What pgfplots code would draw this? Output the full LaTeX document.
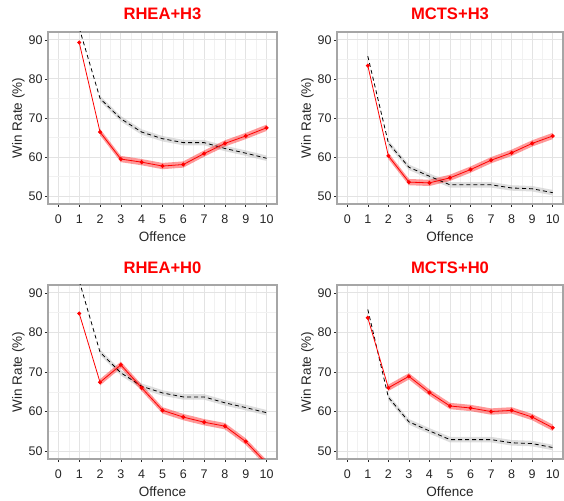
\documentclass[border=0pt]{standalone}
\usepackage{pgfplots}
\pgfplotsset{compat=1.18}
\usepackage{pgfplotstable}
\usepackage{fontspec}
\setmainfont{Liberation Sans}
\definecolor{gridmaj}{HTML}{E3E3E3}
\definecolor{gridmin}{HTML}{F1F1F1}
\definecolor{border}{HTML}{A6A6A6}
\definecolor{ticktxt}{HTML}{262626}
\definecolor{ribgray}{HTML}{C8C8C8}

% baseline lines
\pgfplotstableread{
x y
1 93.0
2 75.0
3 69.8
4 66.4
5 64.7
6 63.7
7 63.7
8 62.2
9 61.0
10 59.7
}\rheabase
\pgfplotstableread{
x y
2 75.7
3 70.5
4 67.1
5 65.4
6 64.4
7 64.4
8 62.9
9 61.7
10 60.4
10 59.0
9 60.3
8 61.5
7 63.0
6 63.0
5 64.0
4 65.7
3 69.1
2 74.3
}\rheabaseband

\pgfplotstableread{
x y
1 85.8
2 63.6
3 57.4
4 55.1
5 52.9
6 52.9
7 52.9
8 52.1
9 51.9
10 50.9
}\mctsbase
\pgfplotstableread{
x y
2 64.3
3 58.1
4 55.8
5 53.6
6 53.6
7 53.6
8 52.8
9 52.6
10 51.6
10 50.2
9 51.2
8 51.4
7 52.2
6 52.2
5 52.2
4 54.4
3 56.7
2 62.9
}\mctsbaseband

\pgfplotstableread{
x y
1 89.3
2 66.4
3 59.5
4 58.7
5 57.7
6 58.1
7 60.9
8 63.5
9 65.4
10 67.5
}\rheaHthree
\pgfplotstableread{
x y
2 67.2
3 60.3
4 59.5
5 58.5
6 58.9
7 61.7
8 64.3
9 66.2
10 68.3
10 66.7
9 64.6
8 62.7
7 60.1
6 57.3
5 56.9
4 57.9
3 58.7
2 65.6
}\rheaHthreeband

\pgfplotstableread{
x y
1 83.4
2 60.3
3 53.6
4 53.4
5 54.7
6 56.8
7 59.2
8 61.1
9 63.5
10 65.4
}\mctsHthree
\pgfplotstableread{
x y
2 61.1
3 54.4
4 54.2
5 55.5
6 57.6
7 60.0
8 61.9
9 64.3
10 66.2
10 64.6
9 62.7
8 60.3
7 58.4
6 56.0
5 53.9
4 52.6
3 52.8
2 59.5
}\mctsHthreeband

\pgfplotstableread{
x y
1 84.8
2 67.4
3 71.8
4 66.0
5 60.3
6 58.6
7 57.3
8 56.3
9 52.4
10 46.9
}\rheaHzero
\pgfplotstableread{
x y
2 68.2
3 72.6
4 66.8
5 61.1
6 59.4
7 58.1
8 57.1
9 53.2
10 47.7
10 46.1
9 51.6
8 55.5
7 56.5
6 57.8
5 59.5
4 65.2
3 71.0
2 66.6
}\rheaHzeroband

\pgfplotstableread{
x y
1 83.7
2 66.0
3 68.9
4 64.8
5 61.4
6 60.9
7 60.0
8 60.3
9 58.6
10 55.9
}\mctsHzero
\pgfplotstableread{
x y
2 66.8
3 69.7
4 65.6
5 62.2
6 61.7
7 60.8
8 61.1
9 59.4
10 56.7
10 55.1
9 57.8
8 59.5
7 59.2
6 60.1
5 60.6
4 64.0
3 68.1
2 65.2
}\mctsHzeroband

\pgfplotsset{
  panel/.style={
    scale only axis,
    xmin=-0.5, xmax=10.5, ymin=48, ymax=92,
    xtick={0,1,...,10}, ytick={50,60,70,80,90},
    minor xtick={-0.5,0.5,...,10.5}, minor ytick={55,65,75,85},
    grid=both,
    major grid style={gridmaj, line width=0.9pt},
    minor grid style={gridmin, line width=0.5pt},
    axis line style={border, line width=1.1pt},
    tick style={ticktxt, line width=0.6pt},
    minor tick length=0pt,
    major tick length=3pt,
    tick align=outside,
    xtick pos=bottom, ytick pos=left,
    /pgf/number format/assume math mode=true,
    ticklabel style={font=\fontsize{12.5}{13}\selectfont, text=ticktxt},
    xticklabel style={yshift=-4pt},
    yticklabel style={xshift=1pt},
    label style={font=\fontsize{13.5}{14}\selectfont, text=ticktxt},
    xlabel={Offence},
    ylabel={Win Rate (\%)},
    xlabel style={yshift=-1pt},
    ylabel style={yshift=-3pt},
    title style={at={(0.5,1)}, anchor=base, yshift=6pt,
      font=\bfseries\fontsize{16.6}{18}\selectfont, text=red},
  },
}

\newcommand{\panelplots}[4]{%
  \addplot[fill=ribgray, fill opacity=0.6, draw=none, forget plot] table[x=x,y=y] {#2};
  \addplot[fill=red, fill opacity=0.4, draw=none, forget plot] table[x=x,y=y] {#4};
  \addplot[black, line width=0.8pt, dash pattern=on 4pt off 3pt, no marks] table[x=x,y=y] {#1};
  \addplot[red, line width=0.8pt, mark=*, mark size=1.6pt, mark options={solid}] table[x=x,y=y] {#3};
}

\begin{document}
\begin{tikzpicture}
\path[use as bounding box] (0,0) rectangle (564pt,500pt);
\begin{axis}[panel, width=229pt, height=172pt, at={(48pt,468pt)}, anchor=north west, title={RHEA+H3}]
\panelplots{\rheabase}{\rheabaseband}{\rheaHthree}{\rheaHthreeband}
\end{axis}
\begin{axis}[panel, width=226pt, height=172pt, at={(337pt,468pt)}, anchor=north west, title={MCTS+H3}]
\panelplots{\mctsbase}{\mctsbaseband}{\mctsHthree}{\mctsHthreeband}
\end{axis}
\begin{axis}[panel, width=229pt, height=174pt, at={(48pt,215pt)}, anchor=north west, title={RHEA+H0}, title style={yshift=-1pt}]
\panelplots{\rheabase}{\rheabaseband}{\rheaHzero}{\rheaHzeroband}
\end{axis}
\begin{axis}[panel, width=226pt, height=174pt, at={(337pt,215pt)}, anchor=north west, title={MCTS+H0}, title style={yshift=-1pt}]
\panelplots{\mctsbase}{\mctsbaseband}{\mctsHzero}{\mctsHzeroband}
\end{axis}
\end{tikzpicture}
\end{document}
